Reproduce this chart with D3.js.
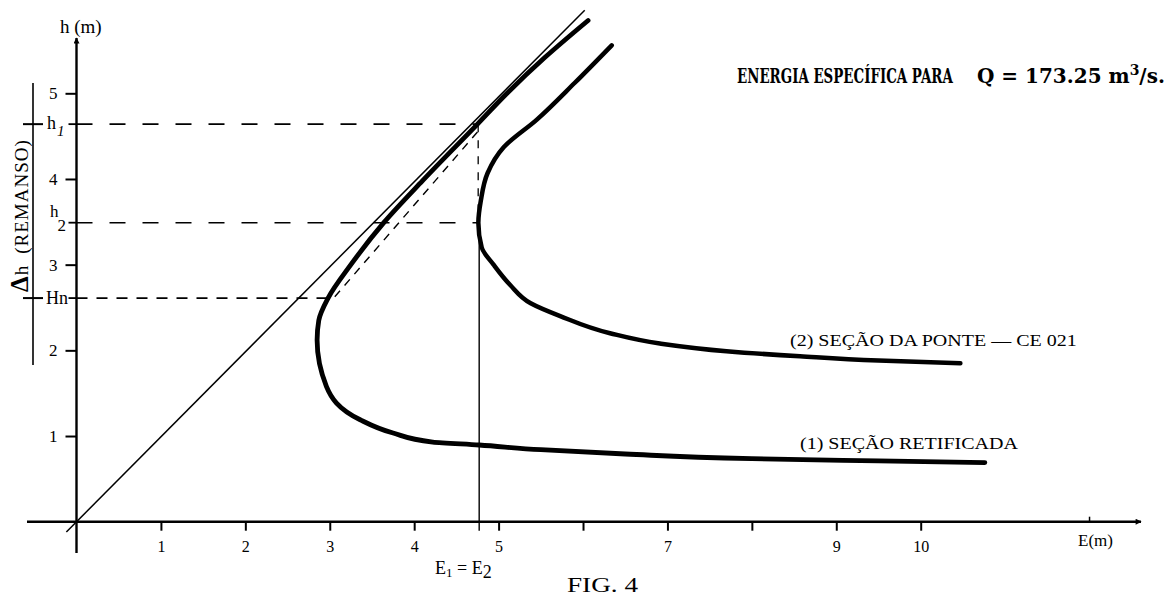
<!DOCTYPE html>
<html>
<head>
<meta charset="utf-8">
<script src="https://cdn.jsdelivr.net/npm/d3@7"></script>
<style>
  body { margin: 0; background: #fff; }
  text { font-family: 'Liberation Serif', 'DejaVu Serif', serif; fill: #000; }
</style>
</head>
<body>
<div id="chart"></div>
<script>
// Data (E in m, h in m)
var xTicks = [1, 2, 3, 4, 5, 6, 7, 8, 9, 10]
var xTickLabels = { 1: '1', 2: '2', 3: '3', 4: '4', 5: '5', 7: '7', 9: '9', 10: '10' }
var yTicks = [1, 2, 3, 4, 5]

// E = h reference line
var diagonal = [[-0.12, -0.12], [6.02, 5.97]]

// (1) secao retificada
var curve1 = [
  [6.06, 5.85], [5.55, 5.42], [5.10, 5.0], [4.75, 4.64], [4.10, 3.98],
  [3.64, 3.49], [3.25, 3.0], [2.98, 2.61], [2.87, 2.35], [2.85, 2.12],
  [2.96, 1.58], [3.36, 1.19], [3.75, 1.035], [4.22, 0.93], [4.77, 0.895],
  [5.5, 0.84], [6.5, 0.79], [8.0, 0.735], [9.5, 0.71], [10.76, 0.69]
]

// (2) secao da ponte - CE 021
var curve2 = [
  [6.34, 5.56], [5.9, 5.12], [5.45, 4.69], [5.06, 4.37],
  [4.87, 4.07], [4.79, 3.75], [4.76, 3.49], [4.80, 3.2], [4.94, 3.0],
  [5.14, 2.76], [5.38, 2.55], [5.73, 2.40], [6.32, 2.20], [6.91, 2.08],
  [7.70, 1.99], [8.57, 1.93], [9.5, 1.88], [10.47, 1.85]
]

// reference levels
var h1 = 4.64
var h2 = 3.49
var hn = 2.61
var eCross = 4.77      // E1 = E2
var eHn = 2.98         // curve 1 at Hn
var eH1 = 4.74         // curve 1 at h1

var width = 1168
var height = 596

var svg = d3.select('#chart')
  .append('svg')
  .attr('width', width)
  .attr('height', height)

var xPositionScale = d3.scaleLinear().domain([0, 10]).range([76.5, 920.7])
var yPositionScale = d3.scaleLinear().domain([0, 5]).range([521.7, 93.3])

var x0 = xPositionScale(0)
var y0 = yPositionScale(0)

var line = d3.line()
  .x(d => xPositionScale(d[0]))
  .y(d => yPositionScale(d[1]))

// h falls all along each curve, so a monotone-in-y curve stays smooth
var smooth = d3.line()
  .x(d => xPositionScale(d[0]))
  .y(d => yPositionScale(d[1]))
  .curve(d3.curveMonotoneY)

// squeeze a text horizontally so it spans a given width
function fitText(sel, x, y, w) {
  var natural = sel.node().getComputedTextLength()
  sel.attr('x', 0).attr('y', 0)
    .attr('transform', `translate(${x},${y}) scale(${w / natural},1)`)
}

// arrow marker
var defs = svg.append('defs')
defs.append('marker')
  .attr('id', 'arrow')
  .attr('viewBox', '0 0 10 10')
  .attr('refX', 9)
  .attr('refY', 5)
  .attr('markerWidth', 9)
  .attr('markerHeight', 6)
  .attr('markerUnits', 'userSpaceOnUse')
  .attr('orient', 'auto')
  .append('path')
  .attr('d', 'M0,0 L10,5 L0,10 z')
  .attr('fill', '#000')

// dashed reference lines
svg.append('line')
  .attr('x1', x0).attr('x2', xPositionScale(eH1))
  .attr('y1', yPositionScale(h1)).attr('y2', yPositionScale(h1))
  .attr('stroke', '#000').attr('stroke-width', 1.6)
  .attr('stroke-dasharray', '16,17')

svg.append('line')
  .attr('x1', x0).attr('x2', xPositionScale(eCross))
  .attr('y1', yPositionScale(h2)).attr('y2', yPositionScale(h2))
  .attr('stroke', '#000').attr('stroke-width', 1.6)
  .attr('stroke-dasharray', '16,17')

svg.append('line')
  .attr('x1', x0).attr('x2', xPositionScale(eHn))
  .attr('y1', yPositionScale(hn)).attr('y2', yPositionScale(hn))
  .attr('stroke', '#000').attr('stroke-width', 1.8)
  .attr('stroke-dasharray', '11,9')

// vertical dashed from h1 down to h2
svg.append('line')
  .attr('x1', xPositionScale(eCross) - 1).attr('x2', xPositionScale(eCross) - 1)
  .attr('y1', yPositionScale(h1)).attr('y2', yPositionScale(h2))
  .attr('stroke', '#000').attr('stroke-width', 1.3)
  .attr('stroke-dasharray', '8,8')

// solid vertical E1 = E2
svg.append('line')
  .attr('x1', xPositionScale(eCross)).attr('x2', xPositionScale(eCross))
  .attr('y1', yPositionScale(h2)).attr('y2', y0 + 9)
  .attr('stroke', '#000').attr('stroke-width', 1.4)

// dashed straight chord between Hn and h1
svg.append('path')
  .datum([[eHn + 0.02, hn + 0.05], [eH1, h1]])
  .attr('d', line)
  .attr('fill', 'none')
  .attr('stroke', '#000').attr('stroke-width', 1.4)
  .attr('stroke-dasharray', '8,7')
  .attr('transform', 'translate(5,3)')

// diagonal E = h
svg.append('path')
  .datum(diagonal)
  .attr('d', line)
  .attr('fill', 'none')
  .attr('stroke', '#000')
  .attr('stroke-width', 1.5)

// curves
svg.append('path')
  .datum(curve1)
  .attr('d', smooth)
  .attr('fill', 'none')
  .attr('stroke', '#000')
  .attr('stroke-width', 4.8)
  .attr('stroke-linecap', 'round')

svg.append('path')
  .datum(curve2)
  .attr('d', smooth)
  .attr('fill', 'none')
  .attr('stroke', '#000')
  .attr('stroke-width', 4.5)
  .attr('stroke-linecap', 'round')

// axes lines
svg.append('line')
  .attr('x1', 27).attr('x2', 1141)
  .attr('y1', y0).attr('y2', y0)
  .attr('stroke', '#000').attr('stroke-width', 2.4)
  .attr('marker-end', 'url(#arrow)')

svg.append('line')
  .attr('x1', x0).attr('x2', x0)
  .attr('y1', 553).attr('y2', 38)
  .attr('stroke', '#000').attr('stroke-width', 2.4)
  .attr('marker-end', 'url(#arrow)')

// x axis ticks
var xAxis = d3.axisBottom(xPositionScale)
  .tickValues(xTicks)
  .tickSize(9)
  .tickPadding(10)
  .tickFormat(d => xTickLabels[d] || '')

var gx = svg.append('g')
  .attr('class', 'axis x-axis')
  .attr('transform', 'translate(0,' + y0 + ')')
  .call(xAxis)
gx.select('.domain').remove()
gx.selectAll('line').attr('stroke-width', 2)
gx.selectAll('text')
  .style('font-family', "'Liberation Serif', serif")
  .style('font-size', '16px')

// tick at E = 12, above the axis
svg.append('line')
  .attr('x1', xPositionScale(12)).attr('x2', xPositionScale(12))
  .attr('y1', y0 - 5).attr('y2', y0)
  .attr('stroke', '#000').attr('stroke-width', 1.5)

// y axis ticks
var yAxis = d3.axisLeft(yPositionScale)
  .tickValues(yTicks)
  .tickSize(11)
  .tickPadding(8)
  .tickFormat(d3.format('d'))

var gy = svg.append('g')
  .attr('class', 'axis y-axis')
  .attr('transform', 'translate(' + x0 + ',0)')
  .call(yAxis)
gy.select('.domain').remove()
gy.selectAll('line').attr('stroke-width', 2)
gy.selectAll('text')
  .style('font-family', "'Liberation Serif', serif")
  .style('font-size', '17px')

// level ticks on y axis
;[h1, h2, hn].forEach(function(v) {
  svg.append('line')
    .attr('x1', x0 - 8).attr('x2', x0)
    .attr('y1', yPositionScale(v)).attr('y2', yPositionScale(v))
    .attr('stroke', '#000').attr('stroke-width', 1.8)
})

// level labels
var l1 = svg.append('text')
  .attr('x', 47).attr('y', yPositionScale(h1) + 5)
  .style('font-size', '18px')
l1.append('tspan').text('h')
l1.append('tspan').attr('dy', 7).attr('dx', 1).style('font-size', '15px').style('font-style', 'italic').text('1')

var l2 = svg.append('text')
  .attr('x', 50).attr('y', yPositionScale(h2) - 6)
  .style('font-size', '17px')
l2.append('tspan').text('h')
l2.append('tspan').attr('dy', 14).attr('dx', -1).style('font-size', '17px').text('2')

svg.append('text')
  .attr('x', 68).attr('y', yPositionScale(hn) + 6)
  .attr('text-anchor', 'end')
  .style('font-size', '18px')
  .text('Hn')

// delta h bracket
svg.append('line')
  .attr('x1', 33).attr('x2', 33)
  .attr('y1', 83).attr('y2', 365)
  .attr('stroke', '#000').attr('stroke-width', 1.6)
;[h1, hn].forEach(function(v) {
  svg.append('line')
    .attr('x1', 23).attr('x2', 43)
    .attr('y1', yPositionScale(v)).attr('y2', yPositionScale(v))
    .attr('stroke', '#000').attr('stroke-width', 2)
})

var dh = svg.append('text')
  .attr('transform', 'translate(28,292) rotate(-90)')
  .style('font-size', '19px')
dh.append('tspan').style('font-weight', 'bold').style('font-size', '25px').text('Δ')
dh.append('tspan').attr('dx', 1).text('h')
dh.append('tspan').attr('dx', 12).style('letter-spacing', '1px').text('(REMANSO)')

// axis titles
svg.append('text')
  .attr('x', 60).attr('y', 33)
  .style('font-size', '19px')
  .text('h (m)')

svg.append('text')
  .attr('x', 1078).attr('y', 546)
  .style('font-size', '17px')
  .text('E(m)')

var eq = svg.append('text')
  .attr('x', 435).attr('y', 574)
  .style('font-size', '18px')
eq.append('tspan').text('E')
eq.append('tspan').attr('dy', 3).style('font-size', '13px').text('1')
eq.append('tspan').attr('dy', -3).text(' = E')
eq.append('tspan').attr('dy', 4).style('font-size', '18px').text('2')

var fig = svg.append('text')
  .style('font-size', '20px')
  .text('FIG. 4')
fitText(fig, 567, 592, 71)

// title
var t1 = svg.append('text')
  .style('font-family', "'DejaVu Serif', serif")
  .style('font-weight', 'bold')
  .style('font-size', '20px')
  .text('ENERGIA ESPECÍFICA PARA')
fitText(t1, 737, 83, 216)

var tq = svg.append('text')
  .style('font-family', "'DejaVu Serif', serif")
  .style('font-weight', 'bold')
  .style('font-size', '20px')
tq.append('tspan').text('Q = 173.25 m')
tq.append('tspan').attr('dy', -8).style('font-size', '14px').text('3')
tq.append('tspan').attr('dy', 8).text('/s.')
fitText(tq, 977, 83, 188)

// curve labels
var c2 = svg.append('text')
  .style('font-size', '17px')
  .text('(2) SEÇÃO DA PONTE — CE 021')
fitText(c2, 790, 346, 287)

var c1 = svg.append('text')
  .style('font-size', '17px')
  .text('(1) SEÇÃO RETIFICADA')
fitText(c1, 800, 449, 218)
</script>
</body>
</html>
